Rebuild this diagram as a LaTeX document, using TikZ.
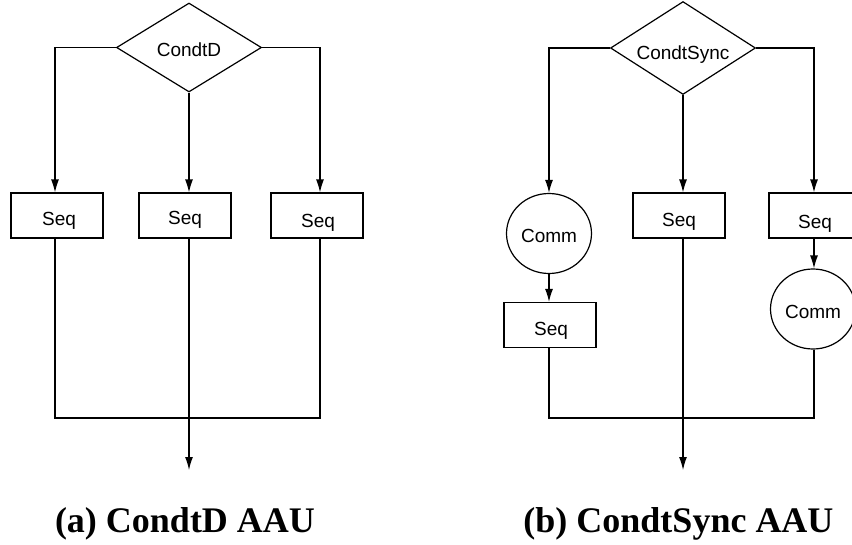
\documentclass[tikz,border=0pt]{standalone}
\usepackage{fontspec}
\setmainfont{Liberation Serif}
\newfontfamily\arialfont{Liberation Sans}
\usetikzlibrary{shapes.geometric,arrows.meta}
\newcommand{\lbl}[2][9.5pt]{\raisebox{-#1}[0pt][0pt]{#2}}
\begin{document}
\begin{tikzpicture}[x=1pt,y=-1pt,
  line width=1.2pt,
  every node/.style={font=\arialfont\fontsize{19}{22}\selectfont},
  cond/.style={draw,diamond,minimum width=145pt,minimum height=89pt,inner sep=0pt},
  seqbox/.style={draw,rectangle,minimum width=92pt,minimum height=45pt,inner sep=0pt},
  comm/.style={draw,ellipse,minimum width=85pt,minimum height=80pt,inner sep=0pt},
  arr/.style={-{Latex[length=13pt,width=8pt]}},
  captext/.style={font=\bfseries\fontsize{36}{40}\selectfont,anchor=base,inner sep=0pt}
]
\useasboundingbox (0,0) rectangle (852,544);
\clip (0,0) rectangle (852,544);

% ---------- (a) ----------
\node[cond] (da) at (189,47.5) {\lbl[8.8pt]{CondtD}};
\node[seqbox] (a1) at (57,215.5) {\hspace*{4pt}\lbl[9.5pt]{Seq}};
\node[seqbox] (a2) at (185,215.5) {\lbl[9.3pt]{Seq}};
\node[seqbox] (a3) at (317,215.5) {\hspace*{2pt}\lbl[12.3pt]{Seq}};
\coordinate (al) at (55,418);
\coordinate (ar) at (320,418);
\coordinate (aout) at (189,470);

\draw[arr] (da.west) -| (al |- a1.north);
\draw[arr] (da.east) -| (ar |- a3.north);
\draw[arr] (da.south) -- (da.south |- a2.north);
\draw (al |- a1.south) -- (al) -- (ar) -- (ar |- a3.south);
\draw[arr] (aout |- a2.south) -- (aout);

\node[captext] (capa) at (185,532) {(a) CondtD AAU};

% ---------- (b) ----------
\node[cond] (db) at (683,48) {\lbl[11.3pt]{CondtSync}};
\node[comm] (c1) at (549,233.5) {\lbl[9pt]{Comm}};
\node[seqbox] (b1) at (550,325) {\hspace*{2pt}\lbl[10.5pt]{Seq}};
\node[seqbox] (b2) at (679,215.5) {\lbl[10.8pt]{Seq}};
\node[seqbox] (b3) at (815,215.5) {\lbl[12.8pt]{Seq}};
\node[comm] (c3) at (813,309) {\lbl[9pt]{Comm}};
\coordinate (bl) at (549,418);
\coordinate (br) at (814,418);
\coordinate (bout) at (683,470);

\draw[arr] (db.west) -| (bl |- c1.north);
\draw[arr] (db.east) -| (br |- b3.north);
\draw[arr] (db.south) -- (db.south |- b2.north);
\draw[arr] (bl |- c1.south) -- (bl |- b1.north);
\draw[arr] (br |- b3.south) -- (br |- c3.north);
\draw (bl |- b1.south) -- (bl) -- (br) -- (br |- c3.south);
\draw[arr] (bout |- b2.south) -- (bout);

\node[captext] (capb) at (678.5,532) {(b) CondtSync AAU};
\end{tikzpicture}
\end{document}
